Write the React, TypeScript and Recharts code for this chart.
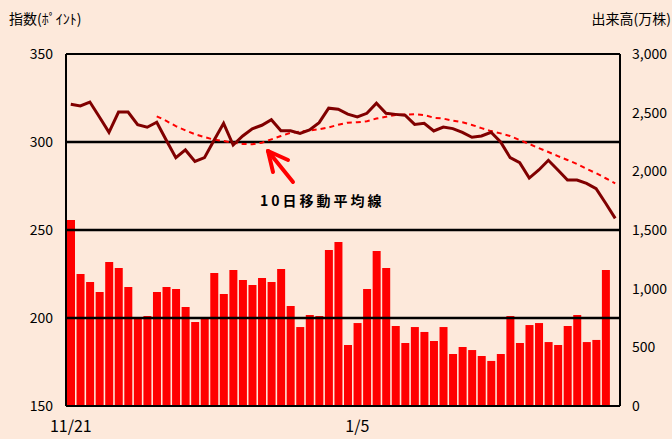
import { ComposedChart, Bar, Line, XAxis, YAxis, ReferenceLine } from 'recharts'

// 日経系指数（終値）, 58 営業日
const closes = [
  321.4, 320.5, 322.7, 314.2, 305.5, 317.0, 317.0, 309.8, 308.4, 311.2,
  301.0, 291.1, 295.5, 289.0, 291.1, 301.0, 310.6, 298.3, 303.4, 307.5,
  309.5, 312.7, 306.4, 306.4, 304.9, 306.8, 311.0, 319.2, 318.6, 315.8,
  314.2, 316.3, 322.0, 316.3, 315.7, 315.2, 310.0, 310.6, 306.3, 308.5,
  307.6, 305.5, 302.7, 303.4, 305.5, 300.0, 291.1, 288.3, 279.5, 284.1,
  289.6, 284.1, 278.4, 278.4, 276.5, 273.5, 265.2, 256.6,
]

// 10日移動平均線
const movingAvg = [
  null, null, null, null, null, null, null, null, null, 314.6,
  312.0, 309.0, 306.6, 304.4, 302.8, 301.3, 300.6, 299.6, 298.9, 298.7,
  299.6, 301.5, 303.4, 305.2, 305.9, 306.6, 307.2, 308.3, 309.8, 311.0,
  311.2, 311.8, 313.3, 314.4, 315.3, 315.6, 315.8, 315.3, 313.8, 313.3,
  312.1, 311.2, 309.7, 307.9, 306.2, 304.9, 303.4, 301.1, 298.9, 296.5,
  294.3, 292.0, 289.8, 287.5, 284.7, 282.3, 279.4, 276.5,
]

// 出来高（万株）
const volumes = [
  1585, 1125, 1057, 972, 1227, 1176, 1014, 759, 767, 972,
  1014, 997, 844, 716, 741, 1134, 955, 1159, 1074, 1031,
  1091, 1057, 1168, 852, 673, 776, 767, 1330, 1398, 520,
  707, 997, 1321, 1176, 682, 537, 673, 631, 554, 673,
  443, 503, 477, 426, 384, 443, 767, 537, 690, 707,
  545, 520, 682, 776, 545, 563, 1159, null,
]

const dateTicks = [0, 30]
const dateLabels: Record<number, string> = { 0: '11/21', 30: '1/5' }
const indexTicks = [150, 200, 250, 300, 350]
const volumeTicks = [0, 500, 1000, 1500, 2000, 2500, 3000]
const gridLevels = [200, 250, 300]

const data = closes.map((close, i) => ({
  day: i,
  close,
  ma: movingAvg[i],
  volume: volumes[i],
}))

const BG = '#fde9db'
const JP_FONT = '"Noto Sans CJK JP", "Noto Sans", sans-serif'
const axisLine = { stroke: '#000', strokeWidth: 2 }

export default function App() {
  return (
    <div style={{ position: 'relative', width: 672, height: 439, background: BG, overflow: 'hidden' }}>
      <style>{'body{margin:0}'}</style>
      <ComposedChart
        width={672}
        height={439}
        data={data}
        margin={{ top: 54, right: 0, left: 0, bottom: 0 }}
        barCategoryGap={1}
      >
        <XAxis
          dataKey="day"
          type="category"
          ticks={dateTicks}
          interval={0}
          tickFormatter={(v) => dateLabels[v] ?? ''}
          height={33}
          axisLine={axisLine}
          tickLine={false}
          tickSize={0}
          tickMargin={15}
          tick={{ fontSize: 16, fill: '#000', fontFamily: JP_FONT }}
        />
        <YAxis
          yAxisId="left"
          domain={[150, 350]}
          ticks={indexTicks}
          width={66}
          axisLine={axisLine}
          tickLine={false}
          tickSize={0}
          tickMargin={13}
          tick={{ fontSize: 14, fill: '#000', fontFamily: JP_FONT }}
        />
        <YAxis
          yAxisId="right"
          orientation="right"
          domain={[0, 3000]}
          ticks={volumeTicks}
          width={52}
          axisLine={axisLine}
          tickLine={false}
          tickSize={0}
          tickMargin={12}
          tickFormatter={(v) => v.toLocaleString('en-US')}
          tick={{ fontSize: 14, fill: '#000', fontFamily: JP_FONT }}
        />
        <Bar yAxisId="right" dataKey="volume" fill="#ff0000" isAnimationActive={false} />
        <ReferenceLine yAxisId="left" y={350} stroke="#000" strokeWidth={2} />
        {gridLevels.map((lv) => (
          <ReferenceLine key={lv} yAxisId="left" y={lv} stroke="#000" strokeWidth={2.5} />
        ))}
        <Line
          yAxisId="left"
          dataKey="ma"
          stroke="#ff0000"
          strokeWidth={2}
          strokeDasharray="5 4"
          dot={false}
          isAnimationActive={false}
        />
        <Line
          yAxisId="left"
          dataKey="close"
          stroke="#800000"
          strokeWidth={3}
          dot={false}
          isAnimationActive={false}
        />
      </ComposedChart>
      <svg
        width={672}
        height={439}
        style={{ position: 'absolute', left: 0, top: 0, pointerEvents: 'none' }}
      >
        <text x={9} y={24} fontSize={14} fontFamily={JP_FONT} fill="#000">
          指数(ﾎﾟｲﾝﾄ)
        </text>
        <text x={671} y={24} fontSize={14} fontFamily={JP_FONT} fill="#000" textAnchor="end">
          出来高(万株)
        </text>
        <text x={260} y={206} fontSize={14} fontWeight="bold" letterSpacing={3} fontFamily={JP_FONT} fill="#000">
          10日移動平均線
        </text>
        <g stroke="#ff0000" strokeWidth={4} strokeLinecap="round" fill="none">
          <line x1={293} y1={182} x2={268} y2={151} />
          <line x1={268} y1={151} x2={288} y2={160} />
          <line x1={268} y1={151} x2={273} y2={172} />
        </g>
      </svg>
    </div>
  )
}
